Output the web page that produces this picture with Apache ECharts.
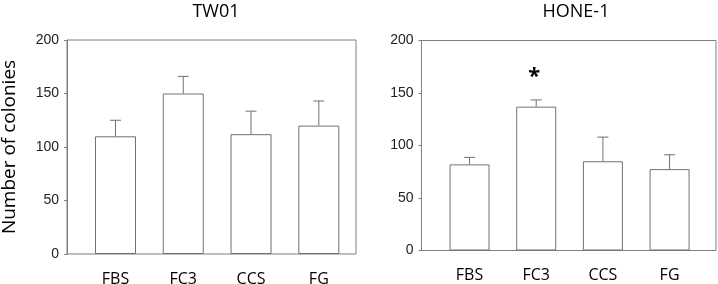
<!DOCTYPE html>
<html>
<head>
<meta charset="utf-8">
<script src="https://cdn.jsdelivr.net/npm/echarts@6/dist/echarts.min.js"></script>
<style>
  html, body { margin: 0; padding: 0; background: #fff; }
  #main { width: 718px; height: 284px; }
</style>
</head>
<body>
<div id="main"></div>
<script>
// 类别
var categories = ['FBS', 'FC3', 'CCS', 'FG'];
// TW01 平均值 / 标准差
var tw01Mean = [110, 150, 112, 120];
var tw01Sd = [15, 16, 21.5, 23];
// HONE-1 平均值 / 标准差
var hone1Mean = [82, 137, 85, 77.5];
var hone1Sd = [6.7, 6.4, 23, 13.7];
var hone1Sig = ['', '*', '', ''];

var frameColor = '#7f7f7f';
var barLine = '#707070';

var chart = echarts.init(document.getElementById('main'));

function errorSeries(idx, means, sds, sig) {
    return {
        type: 'custom',
        xAxisIndex: idx,
        yAxisIndex: idx,
        silent: true,
        z: 5,
        data: means.map(function (m, i) { return [i, m, m + sds[i]]; }),
        renderItem: function (params, api) {
            var x = api.value(0);
            var lo = api.coord([x, api.value(1)]);
            var hi = api.coord([x, api.value(2)]);
            var cap = 5.5;
            var children = [
                { type: 'line', shape: { x1: lo[0], y1: lo[1], x2: hi[0], y2: hi[1] }, style: { stroke: barLine, lineWidth: 1 } },
                { type: 'line', shape: { x1: hi[0] - cap, y1: hi[1], x2: hi[0] + cap, y2: hi[1] }, style: { stroke: barLine, lineWidth: 1 } }
            ];
            if (sig && sig[params.dataIndex]) {
                children.push({
                    type: 'text',
                    style: {
                        text: sig[params.dataIndex], x: hi[0] - 2, y: hi[1] - 23,
                        fill: '#000', font: 'bold 22px "Open Sans", sans-serif',
                        align: 'center', verticalAlign: 'middle'
                    }
                });
            }
            return { type: 'group', children: children };
        }
    };
}

var yAxisCommon = {
    type: 'value', min: 0, max: 200, interval: 50
};

var titleStyle = { fontFamily: 'Open Sans', fontSize: 18, fontWeight: 'normal', color: '#000' };
var catLabel = { margin: 17, fontFamily: 'Open Sans', fontSize: 16, color: '#000' };
var tickLabel = { margin: 8, fontFamily: 'Liberation Sans', fontSize: 14, color: '#222' };

var option = {
    animation: false,
    backgroundColor: '#fff',
    title: [
        { text: 'TW01', left: 211, top: -2, textAlign: 'center', textStyle: titleStyle },
        { text: 'HONE-1', left: 571, top: -2, textAlign: 'center', textStyle: titleStyle }
    ],
    grid: [
        // 框
        { left: 67, top: 40, width: 289, height: 214, show: true, borderColor: frameColor, borderWidth: 1, backgroundColor: 'transparent', outerBoundsMode: 'none' },
        { left: 421.5, top: 40.5, width: 294.5, height: 210, show: true, borderColor: frameColor, borderWidth: 1, backgroundColor: 'transparent', outerBoundsMode: 'none' },
        // 柱子
        { left: 81.6, top: 40, width: 271.1, height: 214, outerBoundsMode: 'none' },
        { left: 436.2, top: 40.5, width: 266.7, height: 210, outerBoundsMode: 'none' }
    ],
    xAxis: [
        { gridIndex: 0, type: 'value', show: false },
        { gridIndex: 1, type: 'value', show: false },
        { gridIndex: 2, type: 'category', data: categories,
          axisLine: { show: false }, axisTick: { show: false }, axisLabel: catLabel },
        { gridIndex: 3, type: 'category', data: categories,
          axisLine: { show: false }, axisTick: { show: false }, axisLabel: catLabel }
    ],
    yAxis: [
        Object.assign({}, yAxisCommon, {
            gridIndex: 0,
            name: 'Number of colonies', nameLocation: 'middle', nameGap: 48, nameRotate: 90,
            nameTextStyle: { fontFamily: 'Open Sans', fontSize: 19, color: '#000' },
            axisLine: { show: true, lineStyle: { color: frameColor } },
            axisTick: { show: true, length: 3, lineStyle: { color: frameColor } },
            axisLabel: tickLabel,
            splitLine: { show: false }
        }),
        Object.assign({}, yAxisCommon, {
            gridIndex: 1,
            axisLine: { show: true, lineStyle: { color: frameColor } },
            axisTick: { show: true, length: 3, lineStyle: { color: frameColor } },
            axisLabel: tickLabel,
            splitLine: { show: false }
        }),
        Object.assign({}, yAxisCommon, { gridIndex: 2, show: false, splitLine: { show: false } }),
        Object.assign({}, yAxisCommon, { gridIndex: 3, show: false, splitLine: { show: false } })
    ],
    series: [
        { type: 'bar', xAxisIndex: 2, yAxisIndex: 2, data: tw01Mean, barWidth: 41,
          itemStyle: { color: '#fff', borderColor: barLine, borderWidth: 1 } },
        errorSeries(2, tw01Mean, tw01Sd, null),
        { type: 'bar', xAxisIndex: 3, yAxisIndex: 3, data: hone1Mean, barWidth: 40,
          itemStyle: { color: '#fff', borderColor: barLine, borderWidth: 1 } },
        errorSeries(3, hone1Mean, hone1Sd, hone1Sig)
    ]
};

chart.setOption(option);
</script>
</body>
</html>
